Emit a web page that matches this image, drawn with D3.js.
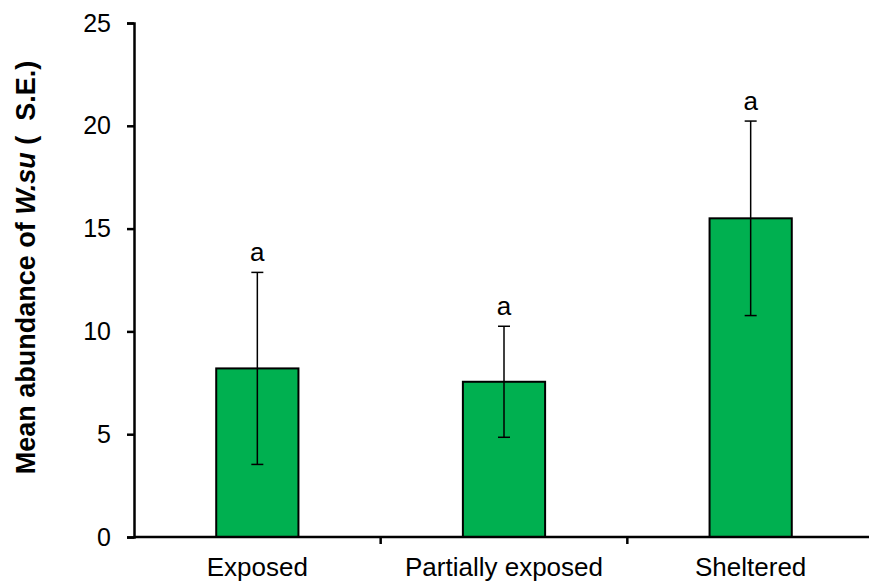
<!DOCTYPE html>
<html>
<head>
<meta charset="utf-8">
<script src="https://cdn.jsdelivr.net/npm/d3@7"></script>
<style>
html,body{margin:0;padding:0;background:#fff;}
svg{display:block;font-family:Arial,"Liberation Sans",sans-serif;}
</style>
</head>
<body>
<svg id="chart" width="869" height="586"></svg>
<script>
const categories = ["Exposed", "Partially exposed", "Sheltered"];
const means = [8.2, 7.55, 15.5];
const errors = [4.67, 2.7, 4.73];
const letters = ["a", "a", "a"];
const yTicks = [0, 5, 10, 15, 20, 25];

const svg = d3.select("#chart");
const x0 = 134, x1 = 874, yTop = 23, yBot = 537;

const x = d3.scaleBand().domain(categories).range([x0, x1]).padding(0);
const y = d3.scaleLinear().domain([0, 25]).range([yBot, yTop]);
const barW = x.bandwidth() / 3;

// bars
const g = svg.append("g");
categories.forEach((c, i) => {
  const cx = x(c) + x.bandwidth() / 2;
  g.append("rect")
    .attr("x", cx - barW / 2)
    .attr("y", y(means[i]))
    .attr("width", barW)
    .attr("height", y(0) - y(means[i]))
    .attr("fill", "#00B050")
    .attr("stroke", "#000")
    .attr("stroke-width", 2);
  const hi = y(means[i] + errors[i]), lo = y(means[i] - errors[i]);
  g.append("line").attr("x1", cx).attr("x2", cx).attr("y1", hi).attr("y2", lo)
    .attr("stroke", "#000").attr("stroke-width", 1.5);
  [hi, lo].forEach(v => g.append("line").attr("x1", cx - 6).attr("x2", cx + 6)
    .attr("y1", v).attr("y2", v).attr("stroke", "#000").attr("stroke-width", 1.5));
  g.append("text").attr("x", cx).attr("y", hi - 11)
    .attr("text-anchor", "middle").attr("font-size", 26).attr("fill", "#000")
    .text(letters[i]);
});

// y axis
const yAxis = d3.axisLeft(y).tickValues(yTicks).tickSize(7).tickPadding(16).tickFormat(d3.format("d"));
const ya = svg.append("g").attr("transform", `translate(${x0},0)`).call(yAxis);
ya.select(".domain").attr("stroke", "#000").attr("stroke-width", 2.5);
ya.selectAll(".tick line").attr("stroke", "#000").attr("stroke-width", 2.5);
ya.selectAll(".tick text").attr("font-size", 25).attr("font-family", "Arial, 'Liberation Sans', sans-serif").attr("fill", "#000");

// x axis
const xBoundaries = categories.slice(1).map(c => x(c));
const xa = svg.append("g").attr("transform", `translate(0,${yBot})`);
xa.append("line").attr("x1", x0).attr("x2", x1).attr("y1", 0).attr("y2", 0)
  .attr("stroke", "#000").attr("stroke-width", 2.5);
xBoundaries.forEach(b => xa.append("line").attr("x1", b).attr("x2", b).attr("y1", 0).attr("y2", 7)
  .attr("stroke", "#000").attr("stroke-width", 2.5));
categories.forEach(c => xa.append("text")
  .attr("x", x(c) + x.bandwidth() / 2).attr("y", 39)
  .attr("text-anchor", "middle").attr("font-size", 26).attr("fill", "#000").text(c));

// y label
const yl = svg.append("text")
  .attr("transform", `translate(35,267.5) rotate(-90)`)
  .style("white-space", "pre")
  .attr("text-anchor", "middle").attr("font-size", 27).attr("font-weight", "bold").attr("fill", "#000");
yl.append("tspan").text("Mean abundance of ");
yl.append("tspan").attr("font-style", "italic").text("W.su");
yl.append("tspan").text(" (  S.E.)");
</script>
</body>
</html>
